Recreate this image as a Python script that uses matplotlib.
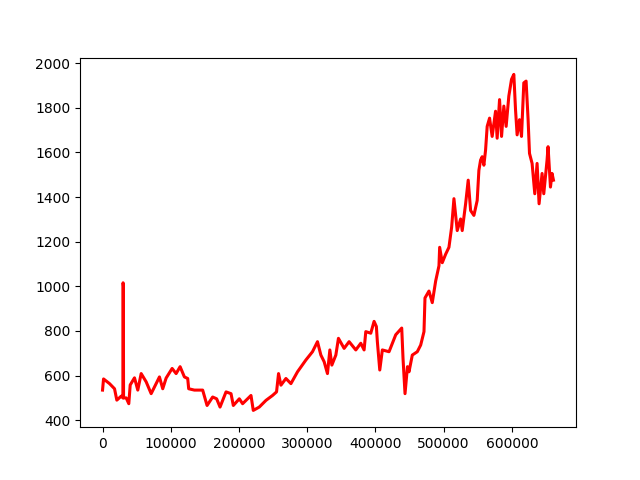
import matplotlib
matplotlib.use("Agg")
import matplotlib.pyplot as plt

x_vals = [0, 1460, 10240, 17560, 20930, 27370, 29800, 30100, 30500, 30800,
          34680, 38490, 40540, 46830, 51660, 56630, 63950, 71270, 77560, 83410,
          88240, 93220, 102000, 107850, 113700, 120000, 124830, 126290, 134630, 146780,
          153220, 161410, 167270, 172250, 181030, 188340, 191710, 200490, 205320, 215120,
          217610, 220970, 229750, 239560, 249220, 255070, 258000, 261510, 268830, 276150,
          285800, 298100, 307760, 315080, 320050, 324880, 329710, 333220, 336150, 342000,
          345810, 354140, 361460, 371260, 378580, 383410, 385900, 393210, 398050, 401410,
          402870, 406390, 410190, 420000, 429800, 438580, 440480, 443410, 447000, 449260,
          454090, 461410, 466390, 471220, 472680, 478530, 483360, 488340, 493170, 494190,
          498000, 502970, 507800, 511750, 515120, 519950, 524920, 527260, 532240, 536040,
          539560, 544390, 549220, 551700, 554190, 556530, 559020, 561500, 563850, 567360,
          571160, 576140, 578480, 581990, 584920, 588280, 591650, 595600, 599550, 602920,
          605400, 607740, 611260, 614180, 617550, 620910, 623840, 625890, 629700, 633650,
          637010, 639940, 644330, 646810, 651640, 653110, 656620, 658960, 661010]

prices = [535, 585, 564, 541, 490, 508, 500, 1016, 1000, 500,
          500, 474, 558, 590, 535, 609, 572, 519, 558, 594,
          541, 589, 632, 609, 640, 594, 587, 541, 535, 535,
          466, 504, 496, 459, 527, 519, 466, 496, 474, 504,
          511, 444, 459, 489, 511, 527, 609, 557, 587, 564,
          617, 670, 707, 752, 692, 662, 609, 715, 647, 692,
          767, 722, 752, 715, 745, 715, 797, 790, 843, 820,
          752, 625, 715, 707, 783, 813, 677, 519, 640, 617,
          692, 707, 737, 797, 948, 979, 927, 1024, 1092, 1175,
          1106, 1144, 1175, 1265, 1393, 1250, 1302, 1250, 1370, 1476,
          1340, 1318, 1385, 1520, 1566, 1581, 1543, 1611, 1717, 1754,
          1672, 1785, 1664, 1837, 1672, 1808, 1717, 1853, 1928, 1950,
          1792, 1679, 1747, 1672, 1912, 1920, 1747, 1596, 1551, 1415,
          1551, 1370, 1506, 1415, 1566, 1626, 1445, 1506, 1476]

fig, ax = plt.subplots(figsize=(6.4, 4.8), dpi=100)
ax.plot(x_vals, prices, color="red", linewidth=2.2)
fig.savefig("out.png", dpi=100)
